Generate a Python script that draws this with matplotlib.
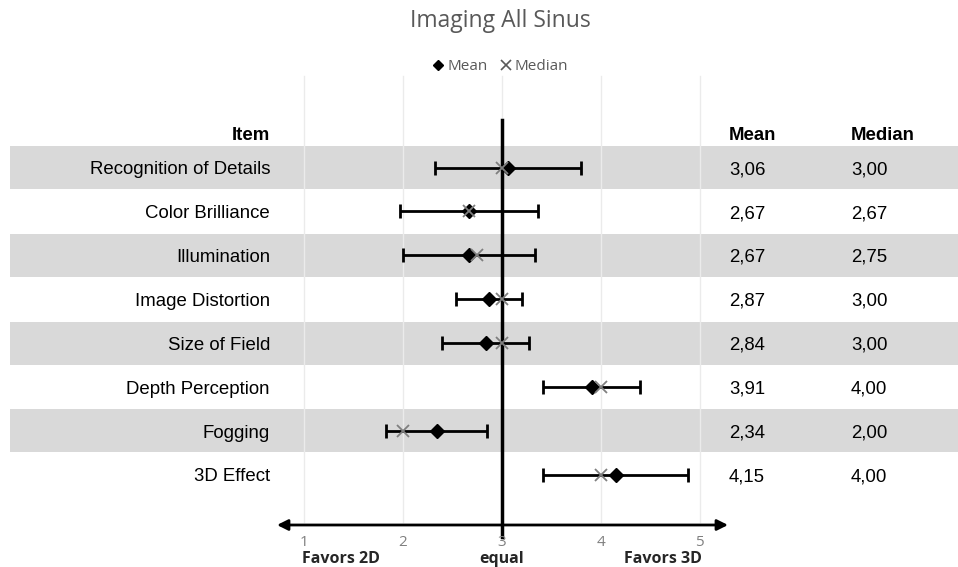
import matplotlib
matplotlib.use("Agg")
import matplotlib.pyplot as plt
from matplotlib.lines import Line2D

items = ["Recognition of Details", "Color Brilliance", "Illumination", "Image Distortion",
         "Size of Field", "Depth Perception", "Fogging", "3D Effect"]
means = [3.06, 2.67, 2.67, 2.87, 2.84, 3.91, 2.34, 4.15]
medians = [3.00, 2.67, 2.75, 3.00, 3.00, 4.00, 2.00, 4.00]
sds = [0.74, 0.70, 0.67, 0.33, 0.44, 0.49, 0.51, 0.73]
ticks = [1, 2, 3, 4, 5]
scale_labels = ["Favors 2D", "equal", "Favors 3D"]
scale_pos = [1.37, 3, 4.63]

W, H = 958, 567
fig = plt.figure(figsize=(W / 100, H / 100), dpi=100)
ax = fig.add_axes([0, 0, 1, 1])
ppu = 98.9
x0px = 304
row0px = 167.5
rowh = 43.9
def px2x(p):
    return (p - x0px) / ppu + 1
def py2y(p):
    return (p - row0px) / rowh
ax.set_xlim(px2x(0), px2x(W))
ax.set_ylim(py2y(H), py2y(0))
ax.axis("off")

sans = ["Liberation Sans", "DejaVu Sans"]
cal = ["Open Sans", "DejaVu Sans"]

# bands
for i in range(len(items)):
    if i % 2 == 0:
        ax.axhspan(i - 0.49, i + 0.49, xmin=10 / W, xmax=1, color="#d9d9d9", zorder=0, lw=0)

# gridlines
for t in ticks:
    ax.plot([t, t], [py2y(76), py2y(522)], color="#ebebeb", lw=1.0, zorder=1)

# central line
ax.plot([3, 3], [py2y(120), py2y(537)], color="black", lw=2.5, zorder=2)

# axis arrow
ax.annotate("", xy=(px2x(728), py2y(525)), xytext=(px2x(277), py2y(525)),
            arrowprops=dict(arrowstyle="<|-|>", color="black", lw=2,
                            mutation_scale=16, shrinkA=0, shrinkB=0), zorder=3)
for t in ticks:
    ax.text(t, py2y(543), str(t), ha="center", va="center", fontsize=11,
            color="#808080", family=cal)
for lab, p in zip(scale_labels, scale_pos):
    ax.text(p, py2y(559), lab, ha="center", va="center", fontsize=11.5,
            fontweight="bold", color="#262626", family=cal)

ys = list(range(len(items)))
ax.errorbar(means, ys, xerr=sds, fmt="none", ecolor="black", elinewidth=2,
            capsize=5, capthick=2, zorder=4)
ax.plot(means, ys, "D", color="black", ms=7.5, zorder=5, lw=0)
ax.plot(medians, ys, "x", color="#7f7f7f", ms=9, mew=1.3, zorder=6, lw=0)

# text columns
fs = 13.4
dy = 0.05
ax.text(px2x(270), py2y(133) + dy, "Item", ha="right", va="center", fontsize=fs,
        fontweight="bold", family=sans)
ax.text(px2x(729), py2y(133) + dy, "Mean", ha="left", va="center", fontsize=fs,
        fontweight="bold", family=sans)
ax.text(px2x(851), py2y(133) + dy, "Median", ha="left", va="center", fontsize=fs,
        fontweight="bold", family=sans)
for i, (it, m, md) in enumerate(zip(items, means, medians)):
    ax.text(px2x(270), i + dy, it, ha="right", va="center", fontsize=fs, family=sans)
    ax.text(px2x(729), i + dy, f"{m:.2f}".replace(".", ","), ha="left", va="center",
            fontsize=fs, family=sans)
    ax.text(px2x(851), i + dy, f"{md:.2f}".replace(".", ","), ha="left", va="center",
            fontsize=fs, family=sans)

fig.text(500 / W, 1 - 21 / H, "Imaging All Sinus", ha="center", va="center",
         fontsize=16.5, color="#595959", family=cal)

handles = [Line2D([], [], marker="D", color="black", ls="none", ms=5),
           Line2D([], [], marker="x", color="#595959", ls="none", ms=7, mew=1.2)]
leg = fig.legend(handles, ["Mean", "Median"], loc="center", ncol=2,
                 bbox_to_anchor=(500 / W, 1 - 67 / H), frameon=False,
                 handlelength=0.8, handletextpad=0.2, columnspacing=0.8,
                 prop={"family": cal, "size": 11})
for t in leg.get_texts():
    t.set_color("#595959")

fig.savefig("out.png", dpi=100)
